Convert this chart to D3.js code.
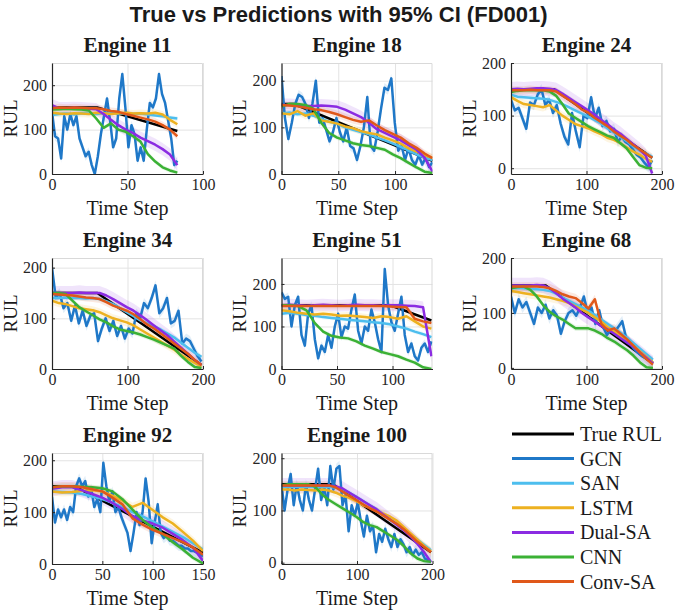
<!DOCTYPE html>
<html>
<head>
<meta charset="utf-8">
<script src="https://cdn.jsdelivr.net/npm/d3@7"></script>
<style>
  body { margin: 0; background: #fff; }
  svg { display: block; }
  .grid line { stroke: #e3e3e3; stroke-width: 1; }
  .grid .domain { display: none; }
</style>
</head>
<body>
<svg id="chart" width="677" height="610"></svg>
<script>
// engines shown, one panel each
const engines = [11, 18, 24, 34, 51, 68, 92, 100];
const engineLength = [83, 133, 187, 198, 135, 188, 150, 198];
const xMax = [100, 133, 200, 200, 136, 200, 150, 200];
const yMin = [0, 0, -11, 0, 0, -2, 0, -2.5];
const yMax = [250, 238, 200, 219, 261, 200, 214, 210];
const xTicks = [[0, 50, 100], [0, 50, 100], [0, 100, 200], [0, 100, 200],
  [0, 50, 100], [0, 100, 200], [0, 50, 100, 150], [0, 100, 200]];
const yTicks = [0, 100, 200];

// true RUL: capped at 150 until the knee, then linear down to the final value
const rulCap = 150;
const trueKnee = [30, 11, 57, 60, 98, 46, 22, 68];
const trueEnd = [97, 28, 20, 8, 114, 8, 22, 20];

const models = ["GCN", "SAN", "LSTM", "Dual-SA", "CNN", "Conv-SA"];
const modelColors = ["#1f78c8", "#4dbeee", "#edb120", "#8b2be2", "#3bb135", "#e0581a"];
const ciHalf = [10, 5, 8, 14, 5, 8];

// predictions, each list spread evenly over the engine's time steps
const gcn = [
  [140, 85, 80, 35, 130, 100, 135, 110, 130, 80, 60, 40, 50, 20, 0, 40, 90, 130, 170, 120, 60, 80, 170, 225, 150, 60, 110, 90, 30, 60, 30, 100, 160, 150, 170, 225, 180, 160, 120, 80, 20, 30],
  [210, 120, 75, 110, 150, 170, 165, 150, 120, 150, 200, 110, 120, 95, 70, 90, 120, 90, 70, 100, 60, 55, 30, 60, 100, 165, 60, 50, 90, 140, 185, 180, 205, 110, 50, 60, 30, 55, 30, 20, 40, 20, 35, 15, 25],
  [130, 110, 115, 95, 75, 125, 120, 140, 150, 120, 130, 105, 120, 85, 60, 45, 105, 70, 40, 100, 95, 135, 95, 115, 80, 90, 70, 75, 50, 60, 50, 45, 35, 25, 20, 10, 2, 15],
  [200, 140, 150, 120, 130, 95, 125, 90, 115, 85, 105, 110, 55, 80, 100, 75, 95, 65, 85, 60, 80, 70, 110, 100, 130, 120, 140, 165, 110, 120, 140, 90, 95, 115, 50, 60, 55, 40, 25, 15],
  [180, 165, 170, 100, 150, 170, 80, 55, 130, 150, 70, 25, 55, 40, 80, 50, 100, 130, 75, 100, 95, 140, 175, 90, 60, 100, 90, 140, 110, 70, 40, 235, 150, 110, 90, 130, 170, 80, 40, 60, 30, 20, 50, 60, 40, 65],
  [130, 100, 125, 110, 120, 100, 80, 110, 100, 115, 90, 105, 95, 62, 85, 100, 105, 95, 110, 130, 100, 110, 80, 105, 75, 60, 70, 65, 75, 85, 55, 45, 35, 28, 22, 18, 14, 10],
  [130, 80, 105, 90, 105, 85, 110, 100, 150, 165, 150, 160, 130, 145, 110, 125, 100, 195, 150, 120, 140, 100, 110, 90, 75, 60, 25, 60, 100, 75, 100, 165, 120, 40, 80, 115, 60, 50, 55, 45, 45, 40, 35, 35, 30, 30, 25, 25, 22, 18, 15],
  [150, 100, 140, 170, 110, 150, 120, 100, 150, 120, 100, 140, 180, 120, 145, 110, 185, 140, 180, 185, 110, 130, 60, 110, 90, 115, 80, 50, 90, 60, 70, 20, 55, 40, 65, 45, 30, 55, 30, 45, 35, 20, 30, 15, 25, 15, 20, 8, 5, 3]
];
const san = [
  [133, 135, 136, 134, 137, 136, 135, 137, 138, 136, 137, 135, 136, 134, 132, 130, 127, 125],
  [130, 132, 128, 130, 125, 118, 112, 108, 100, 95, 90, 85, 78, 72, 65, 58, 50, 42, 35, 30],
  [140, 136, 135, 134, 133, 132, 130, 126, 122, 116, 110, 104, 98, 92, 85, 76, 68, 60, 52, 42, 34, 28, 22],
  [140, 140, 141, 140, 140, 139, 140, 138, 134, 128, 120, 112, 104, 96, 90, 84, 78, 70, 62, 52, 42, 32, 24],
  [130, 132, 130, 127, 125, 122, 120, 118, 116, 114, 112, 110, 108, 105, 100, 95, 88, 82, 75],
  [145, 146, 145, 144, 143, 142, 140, 135, 128, 122, 116, 110, 104, 96, 88, 80, 72, 64, 55, 45, 35, 25, 15],
  [140, 139, 138, 135, 130, 125, 118, 110, 100, 92, 82, 72, 62, 52, 40, 28],
  [145, 145, 146, 145, 146, 145, 145, 145, 144, 140, 134, 126, 118, 110, 102, 92, 82, 74, 64, 54, 44, 34, 24]
];
const lstm = [
  [138, 136, 135, 137, 136, 135, 138, 137, 135, 137, 138, 136, 137, 136, 138, 134, 122, 112],
  [130, 128, 135, 125, 130, 115, 112, 108, 102, 98, 92, 88, 85, 78, 72, 65, 55, 48, 40, 35],
  [135, 128, 122, 120, 118, 116, 120, 110, 100, 92, 84, 80, 76, 70, 65, 58, 54, 48, 40, 32, 26, 18, 12],
  [135, 130, 128, 124, 120, 118, 116, 112, 106, 100, 96, 92, 86, 78, 70, 62, 54, 46, 38, 28, 20, 12, 5],
  [138, 136, 132, 130, 128, 130, 128, 125, 126, 124, 122, 120, 124, 122, 118, 124, 112, 100, 95],
  [140, 138, 136, 134, 132, 130, 128, 125, 122, 118, 112, 106, 100, 92, 84, 74, 66, 58, 50, 40, 30, 20, 10],
  [140, 138, 139, 141, 142, 140, 132, 122, 110, 118, 104, 90, 78, 62, 45, 25],
  [140, 140, 138, 140, 139, 138, 140, 138, 134, 128, 124, 118, 110, 105, 98, 94, 88, 80, 68, 56, 44, 32, 22]
];
const dualSa = [
  [155, 148, 148, 149, 148, 147, 146, 135, 122, 110, 100, 92, 82, 74, 66, 56, 44, 20],
  [148, 148, 147, 146, 146, 147, 146, 144, 138, 130, 122, 110, 96, 88, 80, 72, 62, 52, 35, 5],
  [150, 151, 150, 151, 152, 152, 151, 149, 142, 134, 126, 118, 110, 102, 92, 84, 74, 66, 56, 46, 36, 24, -10],
  [150, 150, 150, 150, 151, 150, 150, 150, 145, 138, 130, 122, 115, 106, 96, 86, 76, 66, 54, 42, 30, 18, 8],
  [150, 151, 150, 149, 150, 151, 150, 149, 150, 151, 150, 150, 149, 150, 150, 149, 148, 145, 30],
  [150, 150, 150, 150, 151, 150, 145, 136, 126, 118, 110, 100, 92, 84, 76, 70, 62, 54, 46, 38, 28, 18, 8],
  [145, 148, 148, 142, 135, 128, 118, 106, 92, 84, 78, 70, 58, 46, 32, 6],
  [148, 148, 148, 148, 148, 148, 148, 148, 146, 142, 134, 126, 118, 110, 102, 92, 82, 72, 62, 50, 36, 20, 1]
];
const cnn = [
  [145, 146, 147, 146, 145, 143, 125, 104, 114, 100, 95, 85, 73, 45, 28, 15, 8, 3],
  [145, 150, 150, 148, 140, 110, 88, 78, 72, 66, 62, 60, 56, 52, 42, 34, 24, 14, 5, 2],
  [145, 147, 148, 148, 148, 148, 146, 138, 122, 104, 96, 88, 80, 74, 68, 62, 58, 48, 38, 22, 6, 1, 0],
  [150, 150, 148, 135, 122, 114, 106, 98, 92, 84, 78, 75, 72, 68, 63, 58, 52, 46, 40, 26, 14, 4, 2],
  [150, 150, 148, 138, 108, 88, 78, 74, 72, 65, 55, 48, 40, 35, 30, 22, 15, 4, 0],
  [145, 147, 148, 142, 130, 114, 102, 94, 88, 80, 72, 72, 72, 68, 62, 54, 48, 40, 32, 22, 10, 1, 0],
  [148, 150, 150, 149, 148, 146, 140, 125, 105, 85, 70, 58, 42, 28, 12, 1],
  [148, 150, 150, 150, 150, 145, 130, 120, 112, 104, 96, 88, 78, 72, 68, 60, 52, 44, 32, 18, 8, 3, 2]
];
const convSa = [
  [148, 150, 149, 150, 149, 148, 148, 146, 142, 140, 135, 131, 127, 123, 118, 110, 100, 85],
  [148, 147, 145, 142, 139, 137, 133, 128, 122, 116, 112, 115, 104, 94, 86, 78, 66, 56, 44, 34],
  [148, 148, 148, 149, 148, 148, 148, 146, 138, 130, 122, 112, 106, 96, 88, 80, 70, 62, 54, 44, 36, 28, 20],
  [148, 147, 146, 145, 143, 141, 140, 138, 132, 125, 120, 115, 108, 98, 88, 80, 70, 60, 50, 40, 30, 18, 8],
  [148, 148, 148, 148, 148, 148, 148, 148, 148, 148, 148, 148, 148, 147, 146, 145, 118, 112, 108],
  [148, 148, 148, 148, 148, 147, 145, 140, 134, 130, 127, 118, 108, 125, 80, 68, 72, 62, 52, 40, 28, 16, 6],
  [148, 150, 150, 148, 144, 140, 128, 115, 88, 76, 66, 58, 50, 42, 32, 18],
  [148, 148, 148, 148, 148, 148, 148, 148, 144, 136, 128, 120, 112, 104, 98, 90, 82, 74, 64, 52, 40, 30, 20]
];
const predictions = [gcn, san, lstm, dualSa, cnn, convSa];

const svg = d3.select("#chart");
const serif = "'Liberation Serif', 'Times New Roman', serif";
const panelW = 151;
const panelH = 111;

// main title
svg.append("text")
  .attr("x", 338.5)
  .attr("y", 22)
  .attr("text-anchor", "middle")
  .style("font-family", "'Liberation Sans', Arial, sans-serif")
  .style("font-weight", "bold")
  .style("font-size", "22px")
  .style("fill", "#1a1a1a")
  .text("True vs Predictions with 95% CI (FD001)");

engines.forEach(function (engine, i) {
  const col = i % 3;
  const row = Math.floor(i / 3);
  const left = 52 + col * 229.5;
  const top = 63 + row * 195;
  const len = engineLength[i];

  const x = d3.scaleLinear().domain([0, xMax[i]]).range([0, panelW]);
  const y = d3.scaleLinear().domain([yMin[i], yMax[i]]).range([panelH, 0]);

  const g = svg.append("g").attr("transform", "translate(" + left + "," + top + ")");

  g.append("clipPath")
    .attr("id", "clip" + i)
    .append("rect")
    .attr("width", panelW)
    .attr("height", panelH);

  // grid lines
  g.append("g")
    .attr("class", "grid")
    .attr("transform", "translate(0," + panelH + ")")
    .call(d3.axisBottom(x).tickValues(xTicks[i]).tickSize(-panelH).tickFormat(""));
  g.append("g")
    .attr("class", "grid")
    .call(d3.axisLeft(y).tickValues(yTicks).tickSize(-panelW).tickFormat(""));

  // light box on top and right
  g.append("path")
    .attr("d", "M0,0.5H" + (panelW - 0.5) + "V" + panelH)
    .attr("fill", "none")
    .attr("stroke", "#d9d9d9");

  const plot = g.append("g").attr("clip-path", "url(#clip" + i + ")");

  // confidence bands
  predictions.forEach(function (series, m) {
    const vals = series[i];
    const step = len / (vals.length - 1);
    plot.append("path")
      .datum(vals)
      .attr("fill", modelColors[m])
      .attr("fill-opacity", 0.13)
      .attr("d", d3.area()
        .x((d, k) => x(k * step))
        .y0((d) => y(d - ciHalf[m]))
        .y1((d) => y(d + ciHalf[m])));
  });

  // true RUL
  const truth = [[0, rulCap], [trueKnee[i], rulCap], [len, trueEnd[i]]];
  plot.append("path")
    .datum(truth)
    .attr("fill", "none")
    .attr("stroke", "#000")
    .attr("stroke-width", 2.5)
    .attr("d", d3.line().x((d) => x(d[0])).y((d) => y(d[1])));

  // model predictions
  predictions.forEach(function (series, m) {
    const vals = series[i];
    const step = len / (vals.length - 1);
    plot.append("path")
      .datum(vals)
      .attr("fill", "none")
      .attr("stroke", modelColors[m])
      .attr("stroke-width", 2.5)
      .attr("stroke-linejoin", "round")
      .attr("d", d3.line().x((d, k) => x(k * step)).y((d) => y(d)));
  });

  // axes
  const xAxis = g.append("g")
    .attr("transform", "translate(0," + panelH + ")")
    .call(d3.axisBottom(x).tickValues(xTicks[i]).tickSizeInner(-3).tickSizeOuter(0).tickPadding(5));
  const yAxis = g.append("g")
    .call(d3.axisLeft(y).tickValues(yTicks).tickSizeInner(-3).tickSizeOuter(0).tickPadding(5));
  [xAxis, yAxis].forEach(function (a) {
    a.select(".domain").attr("stroke", "#262626").attr("stroke-width", 1.2);
    a.selectAll(".tick line").attr("stroke", "#262626");
    a.selectAll(".tick text")
      .style("font-family", serif)
      .style("font-size", "16px")
      .style("fill", "#262626");
  });

  // labels
  g.append("text")
    .attr("x", panelW / 2)
    .attr("y", -11.5)
    .attr("text-anchor", "middle")
    .style("font-family", serif)
    .style("font-weight", "bold")
    .style("font-size", "21px")
    .style("fill", "#1a1a1a")
    .text("Engine " + engine);

  g.append("text")
    .attr("transform", "translate(" + (-35.5) + "," + panelH / 2 + ") rotate(-90)")
    .attr("text-anchor", "middle")
    .style("font-family", serif)
    .style("font-size", "19px")
    .style("fill", "#1a1a1a")
    .text("RUL");

  g.append("text")
    .attr("x", panelW / 2)
    .attr("y", panelH + 41)
    .attr("text-anchor", "middle")
    .style("font-family", serif)
    .style("font-size", "20px")
    .style("fill", "#1a1a1a")
    .text("Time Step");
});

// legend
const legendNames = ["True RUL"].concat(models);
const legendColors = ["#000"].concat(modelColors);
const legend = svg.append("g").attr("transform", "translate(512,434)");
legendNames.forEach(function (name, k) {
  const item = legend.append("g").attr("transform", "translate(0," + k * 24.6 + ")");
  item.append("line")
    .attr("x1", 0)
    .attr("x2", 62)
    .attr("stroke", legendColors[k])
    .attr("stroke-width", 3);
  item.append("text")
    .attr("x", 68)
    .attr("dy", "0.35em")
    .style("font-family", serif)
    .style("font-size", "20px")
    .style("fill", "#1a1a1a")
    .text(name);
});
</script>
</body>
</html>
